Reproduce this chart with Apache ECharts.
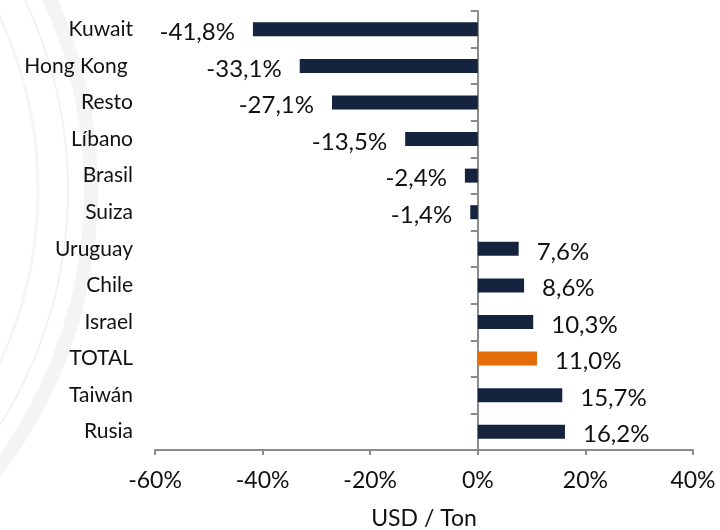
<!DOCTYPE html>
<html>
<head>
<meta charset="utf-8">
<script src="https://cdn.jsdelivr.net/npm/echarts@6/dist/echarts.min.js"></script>
<style>
  html, body { margin: 0; padding: 0; background: #fff; }
  #chart { width: 720px; height: 530px; }
</style>
</head>
<body>
<div id="chart"></div>
<script>
// categories top -> bottom as in the picture
const categories = ['Kuwait', 'Hong Kong ', 'Resto', 'Líbano', 'Brasil', 'Suiza',
  'Uruguay', 'Chile', 'Israel', 'TOTAL', 'Taiwán', 'Rusia'];
const values = [-41.8, -33.1, -27.1, -13.5, -2.4, -1.4, 7.6, 8.6, 10.3, 11.0, 15.7, 16.2];
const xTicks = [-60, -40, -20, 0, 20, 40];
const highlight = 'TOTAL';

const navy = '#14243f';
const orange = '#e46c0a';
const axisGray = '#8c8c8c';
const font = 'Lato, "Open Sans", sans-serif';

const chart = echarts.init(document.getElementById('chart'));

const fmt = v => (v.toFixed(1).replace('.', ',') + '%');

const options = {
  animation: false,
  textStyle: { fontFamily: font },
  grid: { left: 155, right: 27, top: 11, bottom: 80, outerBoundsMode: 'none', containLabel: false },
  // faint seal watermark on the left
  graphic: [
    { type: 'circle', shape: { cx: -372, cy: 190, r: 463 }, style: { fill: 'none', stroke: '#f4f4f4', lineWidth: 14 }, z: -1 },
    { type: 'circle', shape: { cx: -372, cy: 190, r: 440 }, style: { fill: 'none', stroke: '#f2f2f2', lineWidth: 2 }, z: -1 },
    { type: 'circle', shape: { cx: -372, cy: 190, r: 410 }, style: { fill: 'none', stroke: '#f5f5f5', lineWidth: 3 }, z: -1 }
  ],
  xAxis: {
    type: 'value',
    min: xTicks[0],
    max: xTicks[xTicks.length - 1],
    interval: 20,
    name: 'USD / Ton',
    nameLocation: 'middle',
    nameGap: 57,
    nameTextStyle: { fontSize: 23, color: '#111', fontFamily: font },
    splitLine: { show: false },
    axisLine: { show: true, lineStyle: { color: axisGray, width: 2 } },
    axisTick: { show: true, length: 5, lineStyle: { color: axisGray, width: 2 } },
    axisLabel: {
      margin: 19,
      fontSize: 23,
      color: '#111',
      fontFamily: font,
      formatter: v => v + '%'
    }
  },
  yAxis: [
    {
      // labels at the left edge
      type: 'category',
      data: categories,
      inverse: true,
      axisLine: { show: false, onZero: false },
      axisTick: { show: false },
      axisLabel: { margin: 22, fontSize: 21, color: '#111', fontFamily: font }
    },
    {
      // vertical line with ticks at zero
      type: 'category',
      data: categories,
      inverse: true,
      position: 'left',
      axisLine: { show: true, onZero: true, lineStyle: { color: axisGray, width: 2 } },
      axisTick: { show: true, length: 7, lineStyle: { color: axisGray, width: 2 } },
      axisLabel: { show: false }
    }
  ],
  series: [
    {
      type: 'bar',
      yAxisIndex: 0,
      barWidth: 14,
      data: values.map((v, i) => ({
        value: v,
        itemStyle: { color: categories[i] === highlight ? orange : navy },
        label: {
          show: true,
          position: v < 0 ? 'left' : 'right',
          distance: 18,
          offset: [0, 3],
          fontSize: 24,
          color: '#111',
          fontFamily: font,
          formatter: () => fmt(v)
        }
      }))
    }
  ]
};

chart.setOption(options);
window.addEventListener('resize', () => { chart && chart.resize(); });
</script>
</body>
</html>
